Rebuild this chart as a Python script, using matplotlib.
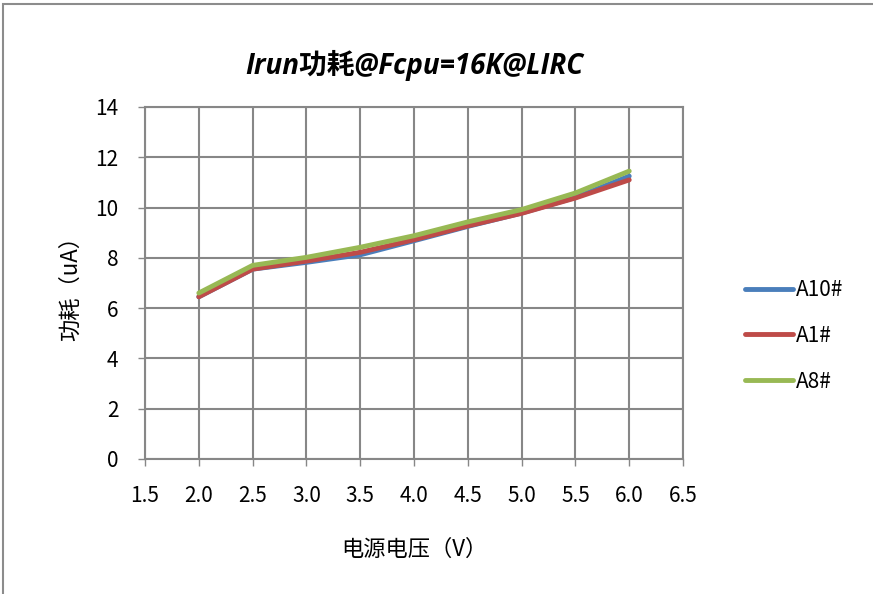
import matplotlib.pyplot as plt
from matplotlib.patches import Rectangle

plt.rcParams['font.family'] = ['Noto Sans CJK SC', 'DejaVu Sans']

# supply voltage (V) and run current (uA) per sample
voltage = [2.0, 2.5, 3.0, 3.5, 4.0, 4.5, 5.0, 5.5, 6.0]
a10 = [6.45, 7.55, 7.82, 8.12, 8.68, 9.25, 9.78, 10.40, 11.25]
a1 = [6.45, 7.55, 7.87, 8.22, 8.72, 9.27, 9.77, 10.38, 11.10]
a8 = [6.60, 7.70, 8.02, 8.42, 8.88, 9.43, 9.92, 10.58, 11.45]

x_ticks = [1.5, 2.0, 2.5, 3.0, 3.5, 4.0, 4.5, 5.0, 5.5, 6.0, 6.5]
y_ticks = [0, 2, 4, 6, 8, 10, 12, 14]

grid_color = '#878787'

fig = plt.figure(figsize=(8.73, 5.94), dpi=100)
fig.patches.append(Rectangle((0.004, -0.01), 1.0, 1.004, transform=fig.transFigure,
                             fill=False, edgecolor='#8c8c8c', linewidth=1.5))
ax = fig.add_axes([0.1661, 0.2273, 0.6163, 0.5926])

ax.plot(voltage, a10, color='#4A7EBB', lw=3.5, solid_capstyle='round', label='A10#')
ax.plot(voltage, a1, color='#BE4B48', lw=3.5, solid_capstyle='round', label='A1#')
ax.plot(voltage, a8, color='#98B954', lw=3.5, solid_capstyle='round', label='A8#')

ax.set_xlim(1.5, 6.5)
ax.set_ylim(0, 14)
ax.set_xticks(x_ticks)
ax.set_xticklabels([f'{v:.1f}' for v in x_ticks])
ax.set_yticks(y_ticks)
ax.grid(True, color=grid_color, lw=1.5)
ax.set_axisbelow(True)
for s in ax.spines.values():
    s.set_color(grid_color)
    s.set_linewidth(1.5)
ax.tick_params(length=5, width=1, color=grid_color, labelsize=15)
ax.tick_params(axis='x', pad=14)
ax.tick_params(axis='y', pad=14)

ax.set_title('Irun功耗@Fcpu=16K@LIRC', fontsize=20, fontweight='bold',
             style='italic', family=['Open Sans', 'Noto Sans CJK SC'], pad=24)
ax.set_xlabel('电源电压（V）', fontsize=16, labelpad=22)
ax.set_ylabel('功耗（uA）', fontsize=16, labelpad=10)

ax.legend(loc='center left', bbox_to_anchor=(1.08, 0.35), frameon=False,
          fontsize=15, handlelength=2.3, handletextpad=0.15, labelspacing=1.15)

fig.savefig('out.png', dpi=100, facecolor='white')
